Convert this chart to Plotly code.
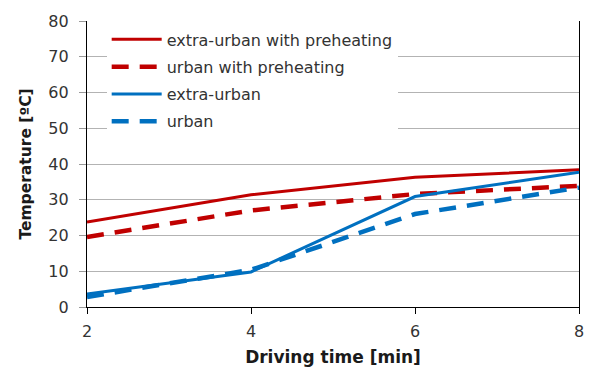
import plotly.graph_objects as go

x = [2, 4, 6, 8]
extra_urban_pre = [23.8, 31.4, 36.3, 38.4]
urban_pre = [19.6, 27.0, 31.6, 33.9]
extra_urban = [3.6, 9.8, 30.9, 37.7]
urban = [2.8, 10.4, 26.0, 33.4]

names = ["extra-urban with preheating", "urban with preheating", "extra-urban", "urban"]
RED = "#C00000"
BLUE = "#0070C0"
FONT = "DejaVu Sans"
DASH = "17px,11px"

fig = go.Figure()
series = [
    (extra_urban_pre, RED, "solid", 3),
    (urban_pre, RED, DASH, 4.5),
    (extra_urban, BLUE, "solid", 3),
    (urban, BLUE, DASH, 4.5),
]
for i, (ys, c, d, w) in enumerate(series):
    fig.add_trace(go.Scatter(x=x, y=ys, mode="lines", name=names[i],
                             legendgroup=str(i),
                             line=dict(color=c, dash=d, width=w)))

fig.update_layout(
    width=596, height=376,
    margin=dict(l=87, r=12, t=16, b=69),
    paper_bgcolor="white", plot_bgcolor="white",
    font=dict(family=FONT, size=16, color="#333333"),
    showlegend=True,
    legend=dict(x=0.04, y=0.995, xanchor="left", yanchor="top",
                bgcolor="white", font=dict(size=16, color="#333333"),
                traceorder="grouped", tracegroupgap=3.5, itemwidth=50),
    xaxis=dict(range=[2, 8], dtick=2, tick0=2, showgrid=False,
               showline=True, linecolor="black", linewidth=1.2,
               ticks="outside", ticklen=6, tickcolor="black",
               ticklabelstandoff=4,
               tickfont=dict(size=16, color="#333333"),
               title=dict(text="<b>Driving time [min]</b>", font=dict(size=17, color="#1a1a1a"), standoff=10),
               zeroline=False),
    yaxis=dict(range=[0, 80], dtick=10, showgrid=True, gridcolor="#B3B3B3", gridwidth=1,
               showline=True, linecolor="black", linewidth=1.2, mirror=True,
               ticks="outside", ticklen=7, tickcolor="#999999",
               ticklabelstandoff=7,
               tickfont=dict(size=16, color="#333333"),
               title=dict(text="<b>Temperature [ºC]</b>", font=dict(size=15.5, color="#1a1a1a"), standoff=12),
               zeroline=False),
)

fig.write_html("out.html")
